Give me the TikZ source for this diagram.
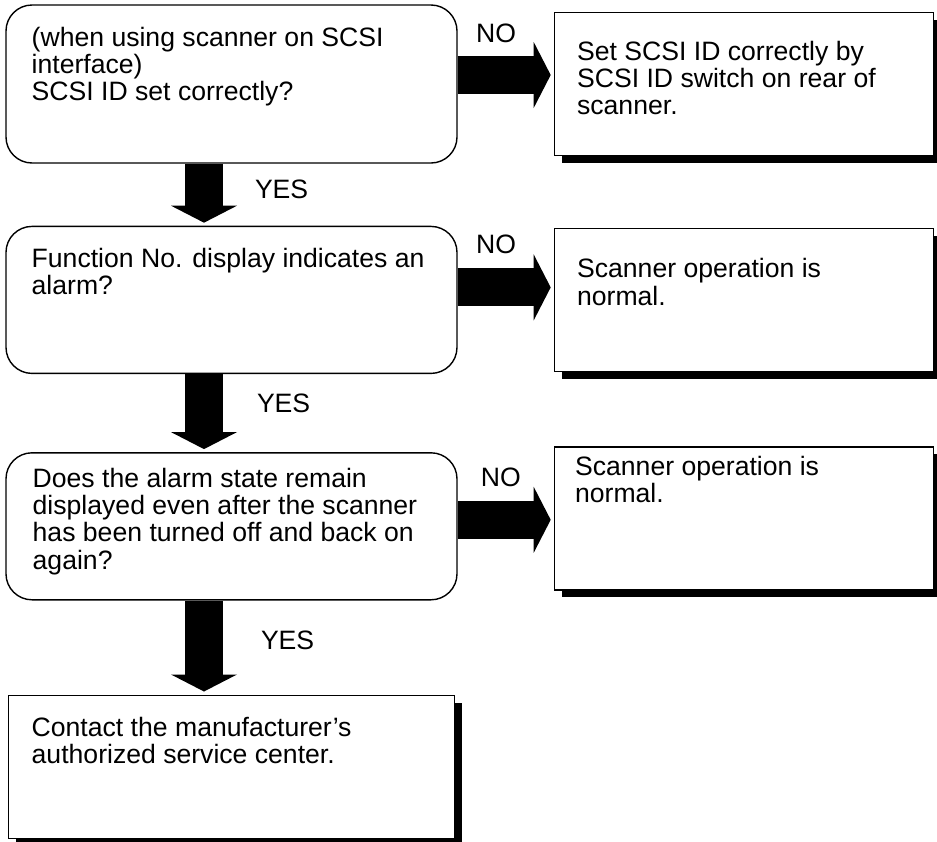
\documentclass[tikz,border=0pt]{standalone}
\usepackage{fontspec}
\setmainfont{Liberation Sans}
\usetikzlibrary{positioning, arrows.meta, shadows}

\begin{document}
\begin{tikzpicture}[
    font=\fontsize{13.3pt}{13.65pt}\selectfont,
    decbox/.style={
      draw, line width=0.7pt, rounded corners=13pt, fill=white,
      minimum width=225.5pt, inner sep=0pt
    },
    resbox/.style={
      draw, line width=0.7pt, fill=white,
      minimum width=189.5pt, minimum height=71.5pt, inner sep=0pt,
      drop shadow={shadow xshift=3.75pt, shadow yshift=-3.75pt, fill=black, opacity=1}
    },
    txt/.style={anchor=base west, align=left, inner sep=0pt},
    flow/.style={
      line width=19pt, shorten >=1.5pt,
      -{Triangle[width=33pt, length=8.5pt, line width=0pt]}
    },
    tag/.style={inner sep=0pt}
  ]
  \useasboundingbox (0,0) rectangle (468.5pt,-420.5pt);

  % questions on the left
  \node[decbox, minimum height=79pt] (d1) at (115.75pt,-42pt) {};
  \node[decbox, minimum height=73.5pt, below=31pt of d1] (d2) {};
  \node[decbox, minimum height=73.5pt, below=39pt of d2] (d3) {};

  % answers on the right, last one below
  \node[resbox, right=48pt of d1] (r1) {};
  \node[resbox, right=48pt of d2] (r2) {};
  \node[resbox, right=48pt of d3, yshift=4pt] (r3) {};
  \node[resbox, minimum width=223pt, below=47pt of d3] (e) {};

  % texts (base = last line)
  \node[txt] (t1) at ([xshift=13pt, yshift=-48.3pt]d1.north west)
    {(when using scanner on SCSI\\interface)\\SCSI ID set correctly?};
  \node[txt] (t2) at ([xshift=13pt, yshift=-34.4pt]d2.north west)
    {Function No. display indicates an\\alarm?};
  \node[txt] (t3) at ([xshift=13.5pt, yshift=-58.45pt]d3.north west)
    {Does the alarm state remain\\displayed even after the scanner\\has been turned off and back on\\again?};
  \node[txt] (s1) at ([xshift=11.5pt, yshift=-51.55pt]r1.north west)
    {Set SCSI ID correctly by\\SCSI ID switch on rear of\\scanner.};
  \node[txt] (s2) at ([xshift=11.5pt, yshift=-38.65pt]r2.north west)
    {Scanner operation is\\normal.};
  \node[txt] (s3) at ([xshift=10.5pt, yshift=-28.15pt]r3.north west)
    {Scanner operation is\\normal.};
  \node[txt] (s4) at ([xshift=11.75pt, yshift=-34.65pt]e.north west)
    {Contact the manufacturer’s\\authorized service center.};

  % YES arrows
  \draw[flow] ([xshift=-13.75pt]d1.south) -- ([xshift=-13.75pt]d2.north)
    node[tag, pos=0.42, anchor=west, xshift=16pt] (y1) {YES};
  \draw[flow] ([xshift=-13.75pt]d2.south) -- ([xshift=-13.75pt]d3.north)
    node[tag, pos=0.38, anchor=west, xshift=17pt] (y2) {YES};
  \draw[flow] ([xshift=-13.75pt]d3.south) -- ([xshift=-13.75pt]e.north)
    node[tag, pos=0.42, anchor=west, xshift=19pt] (y3) {YES};

  % NO arrows
  \draw[flow] ([yshift=4.5pt]d1.east) -- ([yshift=4.5pt]r1.west)
    node[tag, pos=0.4, yshift=21pt] (n1) {NO};
  \draw[flow] ([yshift=6.25pt]d2.east) -- ([yshift=6.25pt]r2.west)
    node[tag, pos=0.4, yshift=21.5pt] (n2) {NO};
  \draw[flow] ([yshift=3.25pt]d3.east) -- ([yshift=-0.75pt]r3.west)
    node[tag, pos=0.45, yshift=21pt] (n3) {NO};
\end{tikzpicture}
\end{document}
